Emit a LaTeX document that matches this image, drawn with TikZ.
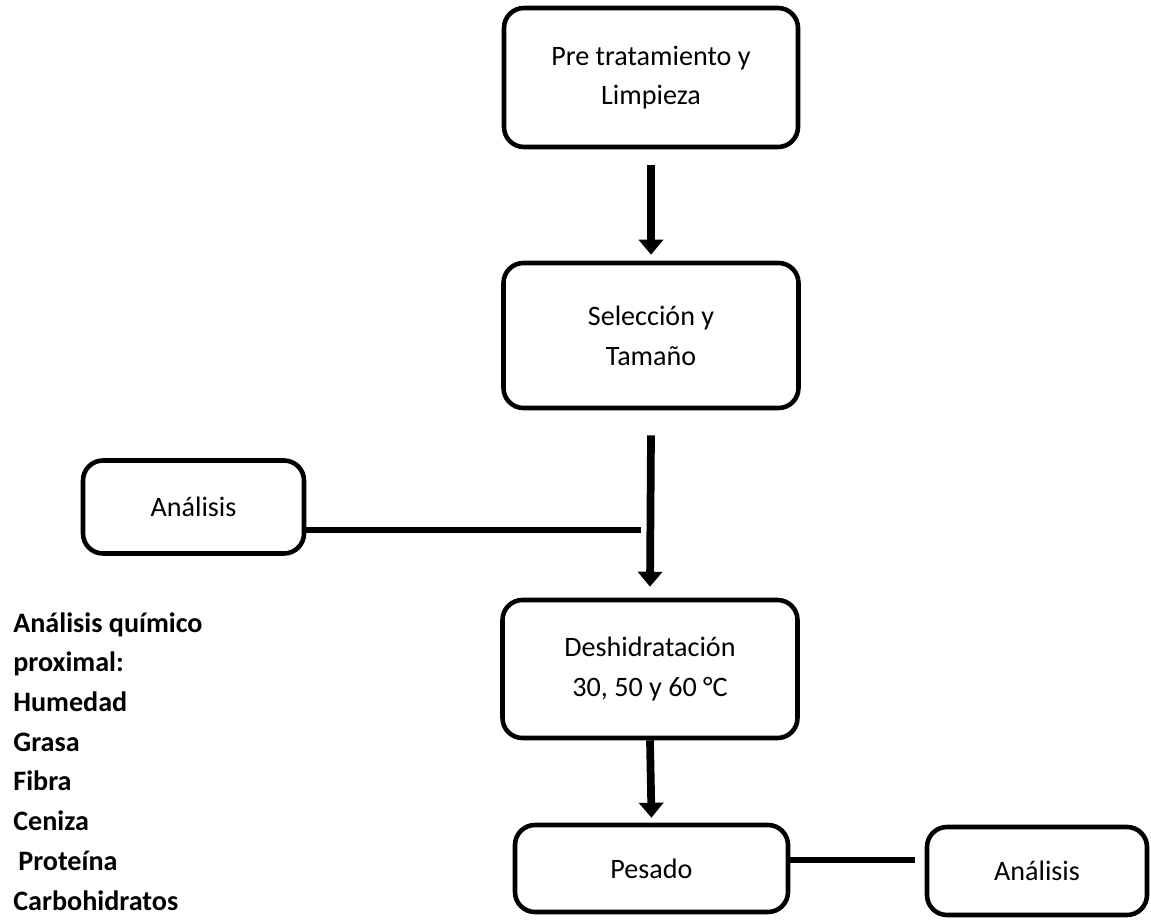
\documentclass[tikz,border=0pt]{standalone}
\usepackage{fontspec}
\setmainfont{Carlito}
\usetikzlibrary{positioning,arrows.meta}

\begin{document}
\begin{tikzpicture}[
    stepbox/.style={draw, line width=2.6pt, rounded corners=0.4cm, align=center,
      font=\fontsize{16}{22.6}\selectfont},
    flow/.style={line width=4.4pt, -{Triangle[width=0.48cm,length=0.3cm]}},
    link/.style={line width=3pt}
  ]
  \useasboundingbox (0,0) rectangle (23.02,-18.48);

  % Define the nodes of the main process
  \node[stepbox, minimum width=5.88cm, minimum height=2.78cm] (pre) at (13.02,-1.55) {Pre tratamiento y\\Limpieza};
  \node[stepbox, minimum width=5.9cm, minimum height=2.9cm] (sel) at (13.02,-6.71) {Selección y\\Tamaño};
  \node[stepbox, minimum width=5.9cm, minimum height=2.76cm] (desh) at (13.0,-13.38) {Deshidratación\\30, 50 y 60 °C};
  \node[stepbox, minimum width=5.46cm, minimum height=1.74cm] (pes) at (13.03,-17.37) {Pesado};

  % Define the analysis nodes
  \node[stepbox, minimum width=4.42cm, minimum height=1.86cm] (anaL) at (3.87,-10.14) {Análisis};
  \node[stepbox, minimum width=4.4cm, minimum height=1.76cm] (anaR) at (20.74,-17.42) {Análisis};

  % List of the chemical analysis
  \node[font=\bfseries\fontsize{16}{22.6}\selectfont, align=left, anchor=north west, inner sep=0pt] (prox) at (0.26,-12.24)
    {Análisis químico\\proximal:\\Humedad\\Grasa\\Fibra\\Ceniza\\\hspace{0.1cm}Proteína\\Carbohidratos};

  % Draw the arrows between the process nodes
  \draw[flow] ([yshift=-0.32cm]pre.south) -- ([yshift=0.12cm]sel.north);
  \draw[flow] ([yshift=-0.5cm]sel.south) -- ([yshift=0.22cm]desh.north);
  \draw[flow] (desh.south) -- ([yshift=0.1cm]pes.north);

  % Draw the lines to the analysis nodes
  \coordinate (jn) at (12.82,-10.6);
  \coordinate (jr) at (18.3,-17.2);
  \draw[link] (anaL.east |- jn) -- (jn);
  \draw[link] (pes.east |- jr) -- (jr);
\end{tikzpicture}
\end{document}
